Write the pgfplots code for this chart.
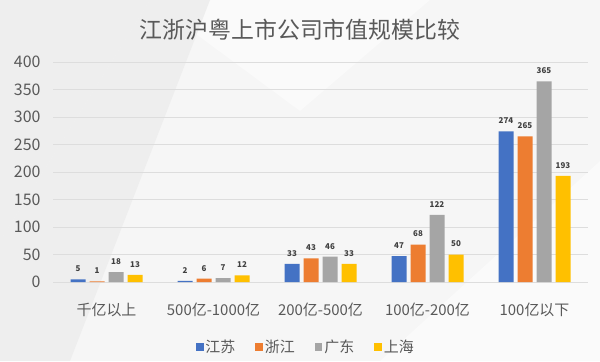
\documentclass[border=0pt]{standalone}
\usepackage{fontspec}
\setmainfont{Noto Sans CJK SC}
\usepackage{pgfplots}
\pgfplotsset{compat=1.18}
\definecolor{cA}{HTML}{4472C4}
\definecolor{cB}{HTML}{ED7D31}
\definecolor{cC}{HTML}{A5A5A5}
\definecolor{cD}{HTML}{FFC000}
\definecolor{txt}{HTML}{595959}
\definecolor{grd}{HTML}{DDDDDD}
\definecolor{bg}{HTML}{F6F6F6}
\definecolor{bg2}{HTML}{EEEEEE}
\definecolor{bg3}{HTML}{FAFAFA}
\begin{document}
\begin{tikzpicture}[x=1bp,y=1bp]
\fill[bg] (0,0) rectangle (600,361);
\fill[bg2] (0,361) -- (150,361) -- (0,120) -- cycle;
\fill[bg3] (150,361) -- (430,361) -- (300,250) -- cycle;
\fill[bg2] (0,0) -- (0,120) -- (150,361) -- (210,361) -- (70,0) -- cycle;
\fill[bg3] (380,0) -- (600,0) -- (600,200) -- cycle;
\begin{axis}[
  at={(53bp,79bp)}, anchor=south west,
  scale only axis, width=535bp, height=220bp,
  ymin=0, ymax=400, ytick={0,50,...,400},
  xmin=-0.5, xmax=4.5,
  xtick={0,1,2,3,4},
  xticklabels={千亿以上,500亿-1000亿,200亿-500亿,100亿-200亿,100亿以下},
  axis line style={draw=none},
  tick style={draw=none},
  ymajorgrids, grid style={grd, line width=0.7bp},
  ybar=4bp, bar width=15bp,
  /pgf/number format/assume math mode=true,
  yticklabel style={font=\fontsize{16}{18}\selectfont, text=txt, xshift=-9bp},
  xticklabel style={font=\fontsize{15}{17}\selectfont, text=txt, yshift=-13bp},
  nodes near coords,
  every node near coord/.append style={font=\fontsize{8}{9}\selectfont\bfseries, text=black!75, yshift=4bp},
  legend style={at={(0.467,-0.295)}, anchor=center, legend columns=-1, draw=none, fill=none,
    font=\fontsize{15}{17}\selectfont, text=txt,
    /tikz/every even column/.append style={column sep=12bp}},
  legend image code/.code={\path (-3bp,0bp); \fill[#1, draw=none] (3bp,-3.8bp) rectangle (10.6bp,3.8bp);},
]
\addplot[fill=cA, draw=none] coordinates {(0,5) (1,2) (2,33) (3,47) (4,274)};
\addplot[fill=cB, draw=none] coordinates {(0,1) (1,6) (2,43) (3,68) (4,265)};
\addplot[fill=cC, draw=none] coordinates {(0,18) (1,7) (2,46) (3,122) (4,365)};
\addplot[fill=cD, draw=none] coordinates {(0,13) (1,12) (2,33) (3,50) (4,193)};
\legend{江苏,浙江,广东,上海}
\end{axis}
\node[font=\fontsize{23}{25}\selectfont, text=txt] at (300,331) {江浙沪粤上市公司市值规模比较};
\end{tikzpicture}
\end{document}
